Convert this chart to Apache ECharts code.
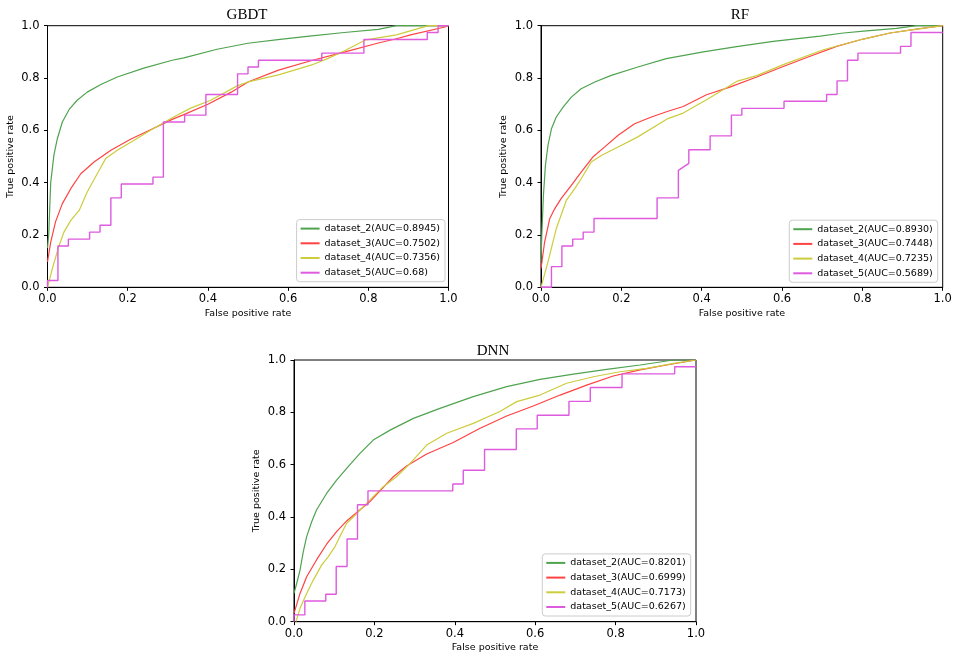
<!DOCTYPE html>
<html>
<head>
<meta charset="utf-8">
<script src="https://cdn.jsdelivr.net/npm/echarts@6/dist/echarts.min.js"></script>
<style>
html,body{margin:0;padding:0;background:#fff;}
#c{width:957px;height:661px;}
</style>
</head>
<body>
<div id="c"></div>
<script>
// ---------- data (fpr, tpr) ----------
const PANEL_TITLES = ['GBDT', 'RF', 'DNN'];
const TICKS = [0, 0.2, 0.4, 0.6, 0.8, 1.0];

const GBDT_NAMES = ['dataset_2(AUC=0.8945)', 'dataset_3(AUC=0.7502)', 'dataset_4(AUC=0.7356)', 'dataset_5(AUC=0.68)'];
const RF_NAMES = ['dataset_2(AUC=0.8930)', 'dataset_3(AUC=0.7448)', 'dataset_4(AUC=0.7235)', 'dataset_5(AUC=0.5689)'];
const DNN_NAMES = ['dataset_2(AUC=0.8201)', 'dataset_3(AUC=0.6999)', 'dataset_4(AUC=0.7173)', 'dataset_5(AUC=0.6267)'];

const GBDT_DS2 = [[0,0.15],[0.003,0.2],[0.008,0.4],[0.016,0.505],[0.0245,0.568],[0.037,0.632],[0.054,0.68],[0.074,0.715],[0.099,0.746],[0.133,0.775],[0.174,0.804],[0.24,0.838],[0.311,0.868],[0.34,0.877],[0.423,0.91],[0.5,0.933],[0.58,0.948],[0.659,0.961],[0.74,0.974],[0.825,0.986],[0.87,1.0],[1,1]];
const GBDT_DS3 = [[0,0.097],[0.008,0.173],[0.02,0.25],[0.037,0.32],[0.058,0.377],[0.083,0.434],[0.116,0.479],[0.158,0.524],[0.207,0.566],[0.257,0.602],[0.311,0.642],[0.34,0.66],[0.4,0.7],[0.457,0.745],[0.5,0.785],[0.576,0.83],[0.659,0.867],[0.742,0.9],[0.825,0.934],[0.87,0.95],[0.908,0.966],[0.991,0.995],[1,1]];
const GBDT_DS4 = [[0,0],[0.012,0.071],[0.029,0.16],[0.041,0.211],[0.058,0.256],[0.079,0.294],[0.099,0.364],[0.124,0.434],[0.145,0.492],[0.174,0.524],[0.216,0.562],[0.257,0.6],[0.311,0.648],[0.357,0.685],[0.407,0.715],[0.473,0.77],[0.5,0.785],[0.576,0.812],[0.659,0.85],[0.7,0.875],[0.742,0.905],[0.794,0.946],[0.87,0.965],[0.95,1.0],[1,1]];
const GBDT_DS5 = [[0,0],[0,0.026],[0.026,0.026],[0.026,0.158],[0.052,0.158],[0.052,0.184],[0.105,0.184],[0.105,0.211],[0.131,0.211],[0.131,0.237],[0.158,0.237],[0.158,0.342],[0.184,0.342],[0.184,0.395],[0.263,0.395],[0.263,0.421],[0.289,0.421],[0.289,0.632],[0.342,0.632],[0.342,0.658],[0.395,0.658],[0.395,0.737],[0.474,0.737],[0.474,0.816],[0.5,0.816],[0.5,0.842],[0.526,0.842],[0.526,0.868],[0.684,0.868],[0.684,0.895],[0.789,0.895],[0.789,0.947],[0.947,0.947],[0.947,0.974],[0.974,0.974],[0.974,1.0],[1,1]];

const RF_DS2 = [[0,0.1],[0.002,0.2],[0.006,0.35],[0.011,0.466],[0.0174,0.543],[0.026,0.606],[0.038,0.651],[0.055,0.689],[0.0755,0.727],[0.1,0.759],[0.134,0.785],[0.175,0.81],[0.241,0.842],[0.312,0.874],[0.404,0.9],[0.487,0.92],[0.578,0.94],[0.695,0.96],[0.753,0.972],[0.81,0.98],[0.885,0.99],[0.935,1.0],[1,1]];
const RF_DS3 = [[0,0.071],[0.009,0.173],[0.0216,0.262],[0.034,0.3],[0.05,0.339],[0.0755,0.39],[0.1,0.44],[0.129,0.498],[0.158,0.536],[0.192,0.581],[0.233,0.625],[0.275,0.651],[0.316,0.673],[0.354,0.691],[0.412,0.736],[0.47,0.765],[0.537,0.804],[0.603,0.844],[0.67,0.883],[0.736,0.921],[0.802,0.949],[0.869,0.972],[0.935,0.987],[1,1]];
const RF_DS4 = [[0,0],[0.0174,0.097],[0.038,0.224],[0.063,0.332],[0.084,0.377],[0.1,0.415],[0.125,0.479],[0.15,0.504],[0.192,0.536],[0.241,0.575],[0.316,0.645],[0.354,0.666],[0.412,0.717],[0.487,0.787],[0.537,0.809],[0.603,0.851],[0.703,0.908],[0.802,0.949],[0.869,0.972],[0.935,0.987],[1,1]];
const RF_DS5 = [[0,0],[0.026,0],[0.026,0.079],[0.052,0.079],[0.052,0.158],[0.079,0.158],[0.079,0.184],[0.105,0.184],[0.105,0.211],[0.132,0.211],[0.132,0.263],[0.289,0.263],[0.289,0.342],[0.342,0.342],[0.342,0.447],[0.368,0.474],[0.368,0.526],[0.421,0.526],[0.421,0.579],[0.474,0.579],[0.474,0.658],[0.5,0.658],[0.5,0.684],[0.605,0.684],[0.605,0.711],[0.711,0.711],[0.711,0.737],[0.737,0.737],[0.737,0.789],[0.763,0.789],[0.763,0.868],[0.789,0.868],[0.789,0.895],[0.895,0.895],[0.895,0.921],[0.921,0.921],[0.921,0.974],[1,0.974]];

const DNN_DS2 = [[0,0.108],[0.0066,0.146],[0.015,0.197],[0.023,0.267],[0.0315,0.325],[0.044,0.382],[0.056,0.427],[0.081,0.49],[0.106,0.541],[0.131,0.586],[0.164,0.643],[0.197,0.694],[0.239,0.732],[0.297,0.777],[0.363,0.815],[0.446,0.86],[0.529,0.898],[0.612,0.926],[0.695,0.946],[0.778,0.964],[0.861,0.981],[0.944,1.0],[1,1]];
const DNN_DS3 = [[0,0.032],[0.015,0.108],[0.0315,0.172],[0.056,0.236],[0.081,0.296],[0.106,0.344],[0.131,0.385],[0.156,0.417],[0.189,0.459],[0.214,0.5],[0.247,0.554],[0.28,0.595],[0.33,0.641],[0.396,0.685],[0.463,0.739],[0.529,0.786],[0.595,0.824],[0.662,0.866],[0.728,0.904],[0.794,0.939],[0.861,0.962],[0.927,0.981],[1,1]];
const DNN_DS4 = [[0.005,0],[0.015,0.051],[0.0315,0.108],[0.048,0.159],[0.069,0.217],[0.085,0.248],[0.102,0.287],[0.114,0.325],[0.131,0.376],[0.148,0.401],[0.172,0.439],[0.197,0.478],[0.222,0.516],[0.255,0.554],[0.289,0.605],[0.33,0.675],[0.38,0.72],[0.446,0.758],[0.512,0.803],[0.554,0.841],[0.612,0.866],[0.678,0.911],[0.745,0.936],[0.811,0.955],[0.877,0.968],[0.944,0.987],[1,1]];
const DNN_DS5 = [[0,0],[0,0.026],[0.027,0.026],[0.027,0.079],[0.079,0.079],[0.079,0.105],[0.105,0.105],[0.105,0.211],[0.132,0.211],[0.132,0.316],[0.158,0.316],[0.158,0.447],[0.184,0.447],[0.184,0.5],[0.395,0.5],[0.395,0.526],[0.421,0.526],[0.421,0.579],[0.474,0.579],[0.474,0.658],[0.553,0.658],[0.553,0.737],[0.605,0.737],[0.605,0.789],[0.684,0.789],[0.684,0.842],[0.737,0.842],[0.737,0.895],[0.816,0.895],[0.816,0.947],[0.947,0.947],[0.947,0.974],[1,0.974]];

// ---------- styling / layout ----------
const COLORS = ['#4fa34f', '#ff4242', '#cccc3d', '#de5ade'];
const SANS = 'DejaVu Sans';
const SERIF = 'Liberation Serif';

const panels = [
  { title: PANEL_TITLES[0], names: GBDT_NAMES, data: [GBDT_DS2, GBDT_DS3, GBDT_DS4, GBDT_DS5],
    grid: { left: 47.5, top: 25.7, width: 401, height: 261.6 }, titlePos: { x: 242, y: 2.5 },
    legend: { right: 512, bottom: 379.3 } },
  { title: PANEL_TITLES[1], names: RF_NAMES, data: [RF_DS2, RF_DS3, RF_DS4, RF_DS5],
    grid: { left: 541, top: 25.7, width: 401.7, height: 261.6 }, titlePos: { x: 735, y: 2.5 },
    legend: { right: 19.3, bottom: 378.7 } },
  { title: PANEL_TITLES[2], names: DNN_NAMES, data: [DNN_DS2, DNN_DS3, DNN_DS4, DNN_DS5],
    grid: { left: 294, top: 360, width: 402, height: 261.7 }, titlePos: { x: 488, y: 339 },
    legend: { right: 266.3, bottom: 45 } }
];

const option = { animation: false, backgroundColor: '#fff', title: [], grid: [], xAxis: [], yAxis: [], legend: [], series: [] };

function axisCommon(name, isY) {
  return {
    type: 'value', min: TICKS[0], max: TICKS[TICKS.length - 1], interval: TICKS[1] - TICKS[0],
    name: name, nameLocation: 'middle', nameGap: isY ? 32 : 21,
    nameTextStyle: { fontFamily: SANS, fontSize: 9.5, color: '#000' },
    axisLine: { show: true, onZero: false, lineStyle: { color: '#000', width: 1 } },
    axisTick: { show: true, inside: false, length: 3.5, lineStyle: { color: '#000', width: 1 } },
    axisLabel: { fontFamily: SANS, fontSize: 11.5, color: '#000', margin: isY ? 8 : 6,
      formatter: v => v.toFixed(1) },
    splitLine: { show: false }
  };
}

panels.forEach((p, i) => {
  option.title.push({ text: p.title, left: p.titlePos.x, top: p.titlePos.y, textAlign: 'center',
    textStyle: { fontFamily: SERIF, fontSize: 15, fontWeight: 'normal', color: '#000' } });
  option.grid.push(Object.assign({ show: true, borderColor: '#000', borderWidth: 1, backgroundColor: 'transparent' }, p.grid));
  option.xAxis.push(Object.assign(axisCommon('False positive rate', false), { gridIndex: i }));
  option.yAxis.push(Object.assign(axisCommon('True positive rate', true), { gridIndex: i }));
  option.legend.push({
    data: p.names, orient: 'vertical', right: p.legend.right, bottom: p.legend.bottom,
    icon: 'rect', itemWidth: 19, itemHeight: 2, itemGap: 2.7, selectedMode: false,
    textStyle: { fontFamily: SANS, fontSize: 9.5, lineHeight: 12, color: '#000' },
    padding: [3, 5, 3, 4], borderColor: '#cccccc', borderWidth: 1, borderRadius: 3,
    backgroundColor: 'rgba(255,255,255,0.8)'
  });
  p.data.forEach((d, k) => {
    option.series.push({
      type: 'line', name: p.names[k], xAxisIndex: i, yAxisIndex: i, data: d,
      showSymbol: false, symbol: 'none', clip: true,
      lineStyle: { color: COLORS[k], width: k === 3 ? 1.4 : 1.2 },
      itemStyle: { color: COLORS[k] }
    });
  });
});

const chart = echarts.init(document.getElementById('c'), null, { renderer: 'canvas' });
chart.setOption(option);
</script>
</body>
</html>
